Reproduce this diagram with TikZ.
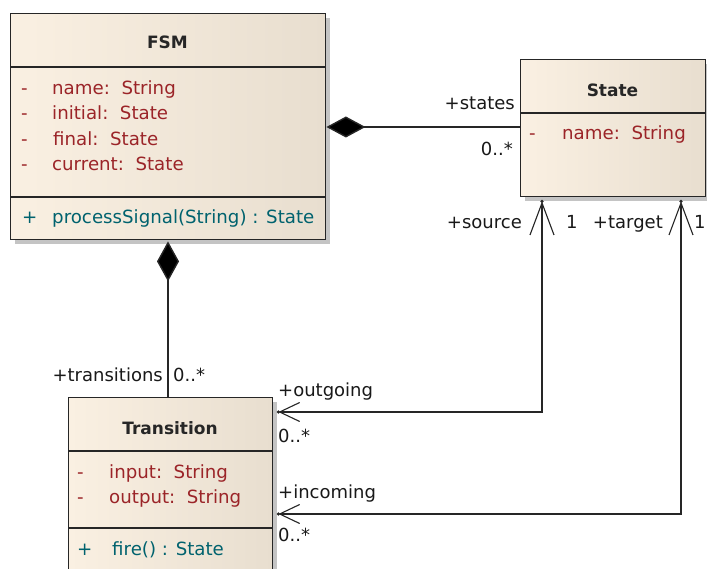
\documentclass[tikz,border=0pt]{standalone}
\usepackage{fontspec}
\setmainfont{DejaVu Sans}
\usetikzlibrary{arrows.meta,shadows,calc}

\definecolor{boxleft}{RGB}{250,240,226}
\definecolor{boxright}{RGB}{232,222,207}
\definecolor{edge}{RGB}{38,38,38}
\definecolor{attr}{RGB}{155,36,40}
\definecolor{oper}{RGB}{0,98,110}
\definecolor{shade}{RGB}{196,196,196}

\tikzset{
  classbox/.style={rectangle, draw=edge, line width=1.4pt, inner sep=0pt,
    anchor=north west, left color=boxleft, right color=boxright,
    drop shadow={shadow xshift=4pt, shadow yshift=-4pt, fill=shade, opacity=1}},
  sepline/.style={draw=edge, line width=1.4pt},
  hdr/.style={font=\fontsize{17}{20}\selectfont\bfseries, text=black!85, inner sep=0pt, anchor=base},
  attrtxt/.style={font=\fontsize{18.2}{22}\selectfont, text=attr, inner sep=0pt, anchor=base west},
  optxt/.style={font=\fontsize{18.2}{22}\selectfont, text=oper, inner sep=0pt, anchor=base west},
  lbl/.style={font=\fontsize{18}{22}\selectfont, text=black!90, inner sep=0pt},
  assoc/.style={draw=edge, line width=1.4pt},
  compH/.style={assoc, -{Diamond[length=39pt,width=21pt,fill=black]}},
  compV/.style={assoc, -{Diamond[length=40pt,width=22pt,fill=black]}},
  navline/.style={assoc,
    {Straight Barb[length=20pt,width=19pt,line width=1.1pt]}-{Straight Barb[length=32pt,width=24pt,line width=1.1pt]}},
  tipdot/.style={fill=edge}
}

\begin{document}
\begin{tikzpicture}[x=1pt,y=-1pt]
  \useasboundingbox (0,0) rectangle (707,569);
  \fill[white] (0,0) rectangle (707,569);

  % ---- class FSM ----
  \node[classbox, minimum width=315pt, minimum height=226pt] (fsm) at (10,13) {};
  \draw[sepline] ($(fsm.north west)+(0,54)$) -- ($(fsm.north east)+(0,54)$);
  \draw[sepline] ($(fsm.north west)+(0,184)$) -- ($(fsm.north east)+(0,184)$);
  \node[hdr] (fsmname) at (167.5,49) {FSM};
  \node[attrtxt] (fsmv1) at (21,94.5) {-};
  \node[attrtxt] (fsma1) at (52,94.5) {name:\ \ String};
  \node[attrtxt] (fsmv2) at (21,120) {-};
  \node[attrtxt] (fsma2) at (52,120) {initial:\ \ State};
  \node[attrtxt] (fsmv3) at (21,145.5) {-};
  \node[attrtxt] (fsma3) at (53,145.5) {final:\ \ State};
  \node[attrtxt] (fsmv4) at (21,171) {-};
  \node[attrtxt] (fsma4) at (52,171) {current:\ \ State};
  \node[optxt] (fsmp1) at (22,223.5) {+};
  \node[optxt] (fsmo1) at (52,223.5) {processSignal(String) : State};

  % ---- class State ----
  \node[classbox, minimum width=185pt, minimum height=137pt] (state) at (520,59) {};
  \draw[sepline] ($(state.north west)+(0,54)$) -- ($(state.north east)+(0,54)$);
  \node[hdr] (statename) at (612.5,96.5) {State};
  \node[attrtxt] (statev1) at (529,139.5) {-};
  \node[attrtxt] (statea1) at (562,139.5) {name:\ \ String};

  % ---- class Transition ----
  \node[classbox, minimum width=204pt, minimum height=178pt] (trans) at (68,397) {};
  \draw[sepline] ($(trans.north west)+(0,54)$) -- ($(trans.north east)+(0,54)$);
  \draw[sepline] ($(trans.north west)+(0,131)$) -- ($(trans.north east)+(0,131)$);
  \node[hdr] (transname) at (170,434.5) {Transition};
  \node[attrtxt] (transv1) at (77,478.5) {-};
  \node[attrtxt] (transa1) at (109,478.5) {input:\ \ String};
  \node[attrtxt] (transv2) at (77,503.5) {-};
  \node[attrtxt] (transa2) at (109,503.5) {output:\ \ String};
  \node[optxt] (transp1) at (77,555.5) {+};
  \node[optxt] (transo1) at (112,555.5) {fire() : State};

  % ---- attachment points ----
  \coordinate (fsmE)   at ($(fsm.north east)+(0,114)$);
  \coordinate (stateW) at ($(state.north west)+(0,68)$);
  \coordinate (fsmS)   at ($(fsm.south west)+(158,1)$);
  \coordinate (transN) at ($(trans.north west)+(100,0)$);
  \coordinate (srcEnd) at ($(state.south west)+(22,4)$);
  \coordinate (tgtEnd) at ($(state.south west)+(161,4)$);
  \coordinate (outEnd) at ($(trans.north east)+(5,15)$);
  \coordinate (inEnd)  at ($(trans.north east)+(5,117)$);

  % ---- connectors ----
  \draw[compH] (stateW) -- (fsmE);
  \draw[compV] (transN) -- (fsmS);
  \draw[navline] (outEnd) -| (srcEnd);
  \draw[navline] (inEnd) -| (tgtEnd);
  \fill[tipdot] (srcEnd) circle (1.8);
  \fill[tipdot] (tgtEnd) circle (1.8);
  \fill[tipdot] (outEnd) circle (1.8);
  \fill[tipdot] (inEnd) circle (1.8);

  % ---- role names and multiplicities ----
  \node[lbl, anchor=base east] (rstates) at (515,109.5) {+states};
  \node[lbl, anchor=base east] (mstates) at (513,155.5) {0..*};
  \node[lbl, anchor=base east] (rsource) at (522,228.5) {+source};
  \node[lbl, anchor=base west] (msource) at (566,228.5) {1};
  \node[lbl, anchor=base east] (rtarget) at (663,228.5) {+target};
  \node[lbl, anchor=base west] (mtarget) at (694,228.5) {1};
  \node[lbl, anchor=base east] (rtrans) at (163,381.5) {+transitions};
  \node[lbl, anchor=base west] (mtrans) at (173,381.5) {0..*};
  \node[lbl, anchor=base west] (rout) at (278,396.5) {+outgoing};
  \node[lbl, anchor=base west] (mout) at (278,442.5) {0..*};
  \node[lbl, anchor=base west] (rin) at (278,498.5) {+incoming};
  \node[lbl, anchor=base west] (min) at (278,541.5) {0..*};
\end{tikzpicture}
\end{document}
